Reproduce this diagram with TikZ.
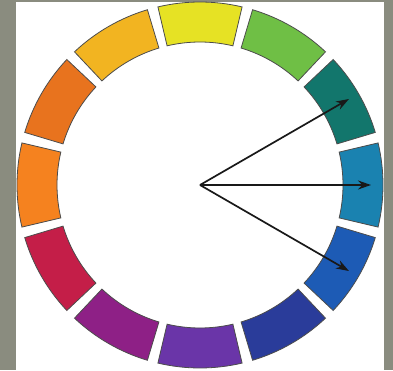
\documentclass[tikz,border=0pt]{standalone}
\usepackage{xcolor}
\usetikzlibrary{arrows.meta}
\definecolor{backgray}{HTML}{8A8C7F}
\definecolor{cwyellow}{HTML}{E6E224}
\definecolor{cwyellowgreen}{HTML}{6FBF45}
\definecolor{cwteal}{HTML}{12766C}
\definecolor{cwcyan}{HTML}{1A82B0}
\definecolor{cwblue}{HTML}{1D5BB5}
\definecolor{cwdarkblue}{HTML}{2A3C9A}
\definecolor{cwviolet}{HTML}{6A35A8}
\definecolor{cwmagenta}{HTML}{8E2086}
\definecolor{cwred}{HTML}{C41E48}
\definecolor{cworange}{HTML}{F5821F}
\definecolor{cwdarkorange}{HTML}{E8731E}
\definecolor{cwamber}{HTML}{F2B421}
\tikzset{
  segment/.style={draw=black!70,line width=0.8pt},
  pointer/.style={-{Stealth[length=13pt,width=9pt]},line width=1.7pt,black!90}
}

\begin{document}
\begin{tikzpicture}[x=1pt,y=1pt,=>stealth]
\useasboundingbox(0,0)rectangle(393,370);
\fill[backgray](0,0)rectangle(393,370);
\fill[white](16,0)rectangle(384,368);
\coordinate(hub)at(200,185);
% twelve hues, one every 30 degrees, yellow at the top
\begin{scope}[shift={(hub)}]
\foreach \a/\col in {90/cwyellow,60/cwyellowgreen,30/cwteal,0/cwcyan,-30/cwblue,-60/cwdarkblue,-90/cwviolet,-120/cwmagenta,-150/cwred,180/cworange,150/cwdarkorange,120/cwamber}
  \draw[segment,fill=\col](\a-13.3:143)arc[start angle=\a-13.3,end angle=\a+13.3,radius=143]
    --(\a+13.3:183)arc[start angle=\a+13.3,end angle=\a-13.3,radius=183]--cycle;
\coordinate(tipteal)at(30:172);
\coordinate(tipcyan)at(0:171);
\coordinate(tipblue)at(-30:172);
\end{scope}
\draw[pointer](hub)--(tipteal);
\draw[pointer](hub)--(tipcyan);
\draw[pointer](hub)--(tipblue);
\end{tikzpicture}
\end{document}
